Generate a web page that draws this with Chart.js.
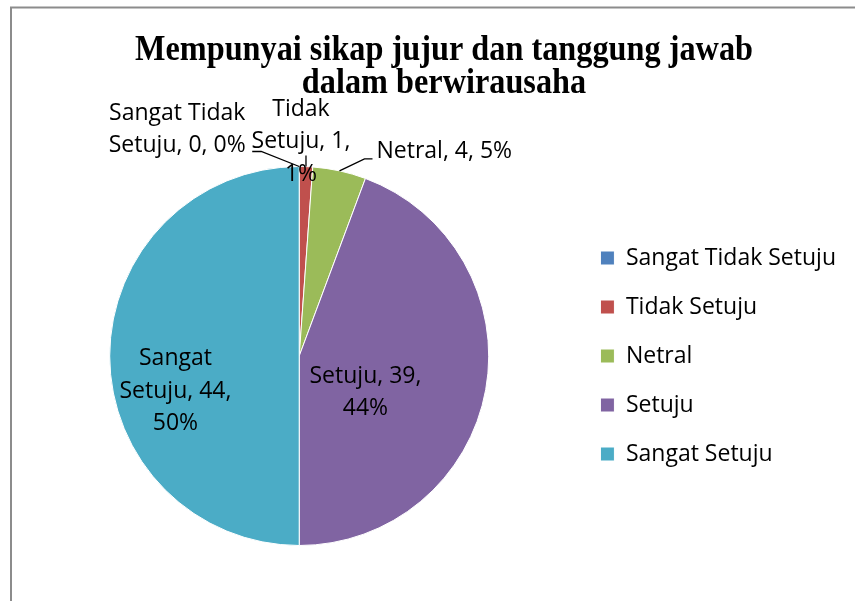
<!DOCTYPE html>
<html>
<head>
<meta charset="utf-8">
<script src="https://cdn.jsdelivr.net/npm/chart.js@4/dist/chart.umd.min.js"></script>
<style>
  html, body { margin: 0; padding: 0; background: #fff; }
  #wrap { width: 855px; height: 601px; }
</style>
</head>
<body>
<div id="wrap"><canvas id="grafikPie"></canvas></div>
<script>
const judul = ['Mempunyai sikap jujur dan tanggung jawab', 'dalam berwirausaha'];
const kategori = ['Sangat Tidak Setuju', 'Tidak Setuju', 'Netral', 'Setuju', 'Sangat Setuju'];
const jumlah = [0, 1, 4, 39, 44];
const warna = ['#4F81BD', '#C0504D', '#9BBB59', '#8064A2', '#4BACC6'];

// posisi label (relatif ke titik busur), lebar bungkus teks, garis penunjuk
const posisiLabel = [
  { out: true, dx: -122, dy: -47, align: 'center', wrap: 152, leader: [[-38, -15], [-47, -15]] },
  { out: true, dx: -5, dy: -51, align: 'center', wrap: 112, leader: [[0, -11]] },
  { out: true, dx: 37, dy: -13, align: 'left', wrap: 300, leader: [[25, -12], [33, -12]] },
  { out: false, dx: -27, dy: 10, align: 'center', wrap: 125 },
  { out: false, dx: -29, dy: 9, align: 'center', wrap: 125 }
];

const fontLabel = '23px "Open Sans"';
const jarakBaris = 32.5;

function bungkus(ctx, teks, lebar) {
  const kata = teks.split(' ');
  const baris = [];
  let now = '';
  kata.forEach(function (k) {
    const coba = now ? now + ' ' + k : k;
    if (now && ctx.measureText(coba).width > lebar) {
      baris.push(now);
      now = k;
    } else {
      now = coba;
    }
  });
  if (now) baris.push(now);
  return baris;
}

const pluginHiasan = {
  id: 'hiasan',
  beforeDraw(chart) {
    const ctx = chart.ctx;
    ctx.save();
    ctx.strokeStyle = '#8c8c8c';
    ctx.lineWidth = 2;
    ctx.strokeRect(11, 7.5, 1000, 800);
    ctx.restore();
  },
  afterDraw(chart) {
    const ctx = chart.ctx;
    // judul
    ctx.save();
    ctx.font = 'bold 35px "Liberation Serif"';
    ctx.fillStyle = '#000';
    ctx.textAlign = 'center';
    ctx.textBaseline = 'alphabetic';
    const sx = 618 / ctx.measureText(judul[0]).width;
    ctx.translate(444, 0);
    ctx.scale(sx, 1);
    ctx.fillText(judul[0], 0, 60);
    ctx.fillText(judul[1], 0, 93);
    ctx.restore();

    // label data
    const meta = chart.getDatasetMeta(0);
    const total = jumlah.reduce((a, b) => a + b, 0);
    ctx.save();
    ctx.font = fontLabel;
    ctx.fillStyle = '#000';
    ctx.strokeStyle = '#000';
    ctx.lineWidth = 1.3;
    ctx.textBaseline = 'alphabetic';
    meta.data.forEach(function (arc, i) {
      const p = posisiLabel[i];
      const a = arc.getProps(['x', 'y', 'startAngle', 'endAngle', 'outerRadius'], true);
      let ax, ay;
      if (p.out) {
        const mid = (a.startAngle + a.endAngle) / 2;
        ax = a.x + a.outerRadius * Math.cos(mid);
        ay = a.y + a.outerRadius * Math.sin(mid);
        ctx.beginPath();
        ctx.moveTo(ax, ay);
        p.leader.forEach(function (pt) { ctx.lineTo(ax + pt[0], ay + pt[1]); });
        ctx.stroke();
      } else {
        const t = arc.tooltipPosition(true);
        ax = t.x;
        ay = t.y;
      }
      const pct = Math.round(jumlah[i] / total * 100);
      const teks = kategori[i] + ', ' + jumlah[i] + ', ' + pct + '%';
      const baris = bungkus(ctx, teks, p.wrap);
      ctx.textAlign = p.align;
      baris.forEach(function (b, j) {
        ctx.fillText(b, ax + p.dx, ay + p.dy + j * jarakBaris);
      });
    });
    ctx.restore();
  }
};

new Chart(document.getElementById('grafikPie'), {
  type: 'pie',
  data: {
    labels: kategori,
    datasets: [{
      data: jumlah,
      backgroundColor: warna,
      borderColor: '#ffffff',
      borderWidth: 1
    }]
  },
  options: {
    responsive: true,
    maintainAspectRatio: false,
    animation: false,
    layout: { padding: { top: 166, bottom: 55, left: 24, right: 9 } },
    plugins: {
      title: { display: false },
      tooltip: { enabled: false },
      legend: {
        position: 'right',
        labels: {
          boxWidth: 14,
          boxHeight: 14,
          padding: 26,
          color: '#000',
          font: { family: 'Open Sans', size: 23 }
        }
      }
    }
  },
  plugins: [pluginHiasan]
});
</script>
</body>
</html>
